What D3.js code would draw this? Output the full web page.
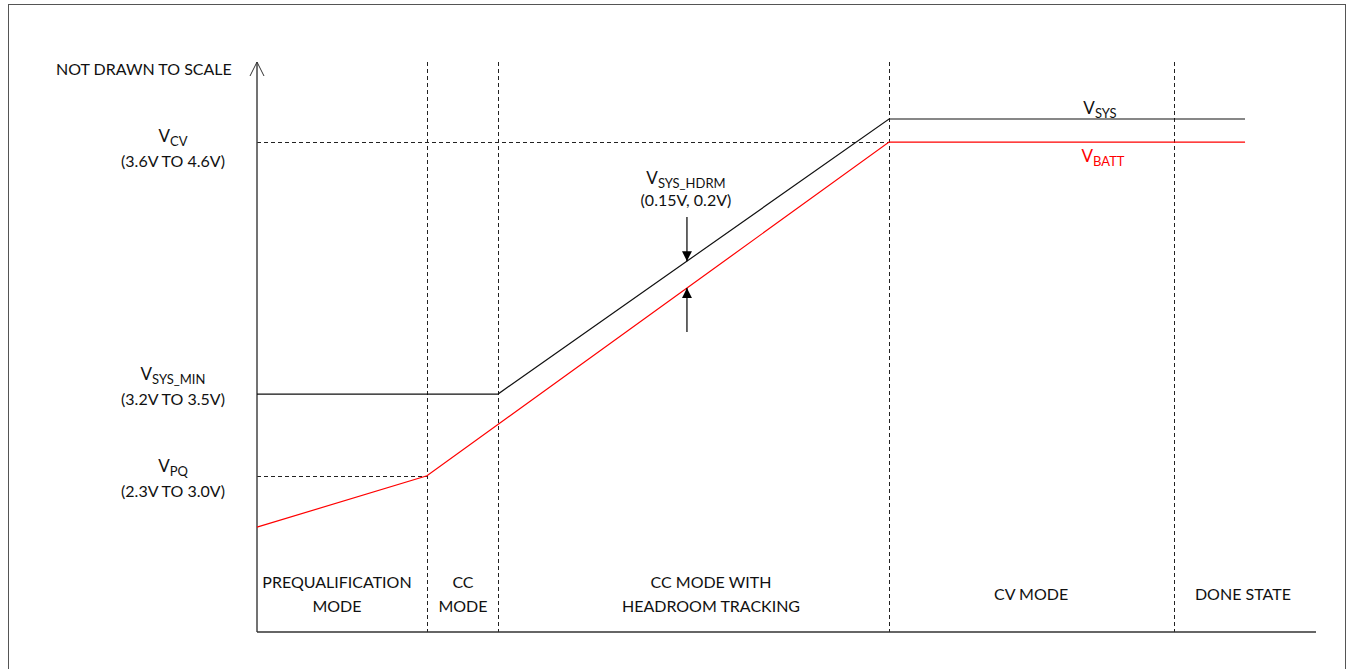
<!DOCTYPE html>
<html>
<head>
<meta charset="utf-8">
<script src="https://cdn.jsdelivr.net/npm/d3@7"></script>
<style>
  html, body { margin: 0; padding: 0; background: #fff; }
  svg { display: block; font-family: Lato, "Open Sans", sans-serif; }
</style>
</head>
<body>
<svg id="chart" width="1351" height="669"></svg>
<script>
// ── data (not drawn to scale: relative units 0..100) ──
const phaseEdges = [16.05, 22.76, 59.68, 86.6];      // dashed dividers
const phaseNames = [
    ["PREQUALIFICATION", "MODE"],
    ["CC", "MODE"],
    ["CC MODE WITH", "HEADROOM TRACKING"],
    ["CV MODE"],
    ["DONE STATE"],
];
const phaseLabelT = [7.55, 19.45, 42.87, 73.1, 93.1];

const vsysT = [0, 22.76, 59.68, 93.3];
const vsysV = [41.75, 41.75, 90.0, 90.0];
const vbattT = [0, 16.05, 59.68, 93.3];
const vbattV = [18.4, 27.4, 85.95, 85.95];

const levelNames = [
    { main: "V", sub: "CV", range: "(3.6V TO 4.6V)", v: 85.95, guideTo: 59.68 },
    { main: "V", sub: "SYS_MIN", range: "(3.2V TO 3.5V)", v: 41.75, guideTo: null },
    { main: "V", sub: "PQ", range: "(2.3V TO 3.0V)", v: 27.4, guideTo: 16.05 },
];

// ── scales ──
const svg = d3.select("#chart");
const x = d3.scaleLinear().domain([0, 100]).range([257, 1316]);
const y = d3.scaleLinear().domain([0, 100]).range([632, 62]);

// outer frame
svg.append("rect")
    .attr("x", 8.5).attr("y", 4.5)
    .attr("width", 1337).attr("height", 700)
    .attr("fill", "none").attr("stroke", "#555").attr("stroke-width", 1);

svg.append("defs").append("marker")
    .attr("id", "tri")
    .attr("viewBox", "0 -5 10 10")
    .attr("refX", 10).attr("refY", 0)
    .attr("markerWidth", 10).attr("markerHeight", 10)
    .attr("markerUnits", "userSpaceOnUse")
    .attr("orient", "auto")
    .append("path")
    .attr("d", "M0,-5L10,0L0,5Z")
    .attr("fill", "#000");

// phase dividers
svg.selectAll(".divider")
    .data(phaseEdges)
    .enter().append("line")
    .attr("x1", d => Math.round(x(d)) + 0.5).attr("x2", d => Math.round(x(d)) + 0.5)
    .attr("y1", y(100)).attr("y2", y(0))
    .attr("stroke", "#222").attr("stroke-width", 1)
    .attr("stroke-dasharray", "4,3");

// horizontal guides
svg.selectAll(".guide")
    .data(levelNames.filter(d => d.guideTo !== null))
    .enter().append("line")
    .attr("x1", x(0)).attr("x2", d => x(d.guideTo))
    .attr("y1", d => Math.round(y(d.v)) + 0.5).attr("y2", d => Math.round(y(d.v)) + 0.5)
    .attr("stroke", "#222").attr("stroke-width", 1)
    .attr("stroke-dasharray", "4,3");

// axes
svg.append("line")
    .attr("x1", x(0)).attr("x2", x(0))
    .attr("y1", y(0)).attr("y2", y(100))
    .attr("stroke", "#444").attr("stroke-width", 1.5);
svg.append("line")
    .attr("x1", x(0)).attr("x2", x(100))
    .attr("y1", y(0)).attr("y2", y(0))
    .attr("stroke", "#333").attr("stroke-width", 1.3);
svg.append("path")
    .attr("d", `M${x(0) - 7},${y(100) + 14}L${x(0)},${y(100)}L${x(0) + 7},${y(100) + 14}`)
    .attr("fill", "none").attr("stroke", "#333").attr("stroke-width", 1);

// curves
const line = d3.line();
svg.append("path")
    .attr("d", line(vsysT.map((t, i) => [x(t), y(vsysV[i])])))
    .attr("fill", "none").attr("stroke", "#111").attr("stroke-width", 1.2);
svg.append("path")
    .attr("d", line(vbattT.map((t, i) => [x(t), y(vbattV[i])])))
    .attr("fill", "none").attr("stroke", "#ff0000").attr("stroke-width", 1.2);

// headroom arrows
const hx = x(40.6);
const sysAt = d3.scaleLinear().domain([vsysT[1], vsysT[2]]).range([vsysV[1], vsysV[2]]);
const batAt = d3.scaleLinear().domain([vbattT[1], vbattT[2]]).range([vbattV[1], vbattV[2]]);
svg.append("line")
    .attr("x1", hx).attr("x2", hx)
    .attr("y1", 217).attr("y2", y(sysAt(40.6)))
    .attr("stroke", "#000").attr("stroke-width", 1.2).attr("marker-end", "url(#tri)");
svg.append("line")
    .attr("x1", hx).attr("x2", hx)
    .attr("y1", 332).attr("y2", y(batAt(40.6)))
    .attr("stroke", "#000").attr("stroke-width", 1.2).attr("marker-end", "url(#tri)");

// text helpers
function subLabel(g, px, py, main, sub, color, anchor) {
    const t = g.append("text")
        .attr("x", px).attr("y", py)
        .attr("text-anchor", anchor || "middle")
        .attr("fill", color || "#111")
        .attr("font-size", 17);
    t.append("tspan").text(main);
    t.append("tspan").attr("font-size", 13).attr("dy", 4).text(sub);
    return t;
}

svg.append("text")
    .attr("x", 56).attr("y", 75)
    .attr("font-size", 16).attr("fill", "#111")
    .text("NOT DRAWN TO SCALE");

const lbl = svg.append("g");
levelNames.forEach((d, i) => {
    const yy = [143, 381, 473][i];
    subLabel(lbl, 173, yy - 1, d.main, d.sub);
    lbl.append("text")
        .attr("x", 173).attr("y", yy + 24)
        .attr("text-anchor", "middle").attr("font-size", 16).attr("fill", "#111")
        .text(d.range);
});

subLabel(svg, 1100, 114, "V", "SYS", "#111");
subLabel(svg, 1103, 162, "V", "BATT", "#ff0000");
subLabel(svg, 686, 184, "V", "SYS_HDRM", "#111");
svg.append("text")
    .attr("x", 686).attr("y", 206)
    .attr("text-anchor", "middle").attr("font-size", 16).attr("fill", "#111")
    .text("(0.15V, 0.2V)");

// phase names
phaseNames.forEach((lines, i) => {
    const cx = x(phaseLabelT[i]);
    const y0 = lines.length === 1 ? 600 : 588;
    lines.forEach((s, j) => {
        svg.append("text")
            .attr("x", cx).attr("y", y0 + j * 24)
            .attr("text-anchor", "middle").attr("font-size", 16).attr("fill", "#111")
            .text(s);
    });
});
</script>
</body>
</html>
